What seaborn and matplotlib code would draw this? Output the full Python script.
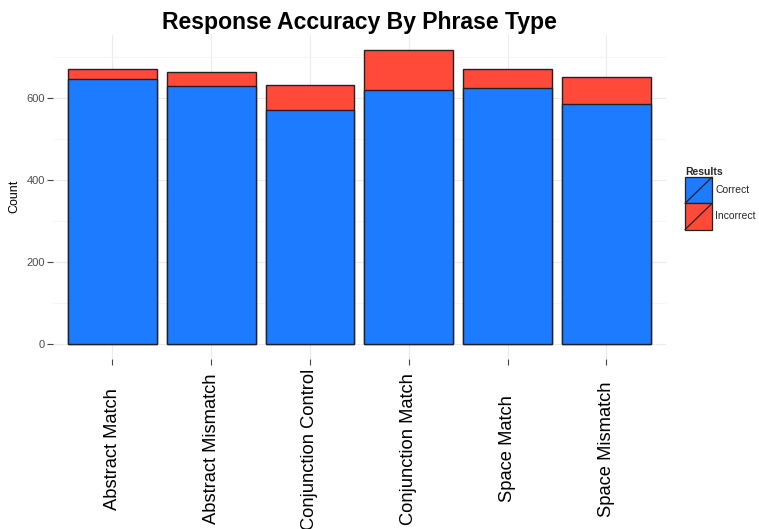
import matplotlib.pyplot as plt
import pandas as pd
import seaborn as sns
from matplotlib.legend_handler import HandlerBase
from matplotlib.lines import Line2D
from matplotlib.patches import Patch, Rectangle
from matplotlib.ticker import MultipleLocator

# Data
phrase_types = ["Abstract Match", "Abstract Mismatch", "Conjunction Control",
                "Conjunction Match", "Space Match", "Space Mismatch"]
correct = [648, 630, 571, 620, 625, 585]
incorrect = [23, 35, 62, 99, 47, 68]

df = pd.DataFrame({"phrase": phrase_types, "Correct": correct, "Incorrect": incorrect})
df["total"] = df["Correct"] + df["Incorrect"]

blue = "#1c7bff"
red = "#ff4a3a"
edge = "#222222"


class SlashKey(HandlerBase):
    # ggplot style legend key: filled box with a diagonal stroke
    def create_artists(self, legend, orig_handle, xdescent, ydescent,
                       width, height, fontsize, trans):
        x0, y0 = -xdescent, -ydescent
        box = Rectangle((x0, y0), width, height, facecolor=orig_handle.get_facecolor(),
                        edgecolor=edge, lw=0.9, transform=trans)
        slash = Line2D([x0, x0 + width], [y0, y0 + height], color=edge, lw=0.9,
                       transform=trans)
        return [box, slash]


sns.set_theme(style="whitegrid")
plt.rcParams["font.family"] = ["Liberation Sans", "DejaVu Sans"]

fig = plt.figure(figsize=(7.59, 5.29), dpi=100)
ax = fig.add_axes([0.070, 0.322, 0.807, 0.612])

sns.barplot(data=df, x="phrase", y="total", color=red, width=0.9,
            edgecolor=edge, linewidth=1.0, saturation=1, ax=ax)
sns.barplot(data=df, x="phrase", y="Correct", color=blue, width=0.9,
            edgecolor=edge, linewidth=1.0, saturation=1, ax=ax)

ax.set_xlim(-0.6, len(phrase_types) - 0.4)
ax.set_ylim(-36, 755)
ax.yaxis.set_major_locator(MultipleLocator(200))
ax.yaxis.set_minor_locator(MultipleLocator(100))
ax.set_facecolor("white")
ax.grid(True, which="major", color="#ebebeb", lw=0.8)
ax.grid(True, which="minor", axis="y", color="#f5f5f5", lw=0.6)
ax.set_axisbelow(True)
for s in ax.spines.values():
    s.set_visible(False)

# x labels are centred under the ticks, like ggplot's angle = 90
ax.tick_params(axis="x", labelsize=13.2, labelrotation=90, length=4, width=0.8,
               color="#444444", labelcolor="black", pad=61, bottom=True)
for lbl in ax.get_xticklabels():
    lbl.set_va("center")
ax.tick_params(axis="y", labelsize=8, length=4, width=0.8, color="#444444",
               labelcolor="#4d4d4d", left=True, pad=2)
ax.set_xlabel("")
ax.set_ylabel("Count", fontsize=9, labelpad=4, color="black")
ax.set_title("Response Accuracy By Phrase Type", fontsize=16.6, fontweight="bold",
             color="black", pad=4)

handles = [Patch(facecolor=blue), Patch(facecolor=red)]
leg = fig.legend(handles, ["Correct", "Incorrect"], title="Results",
                 handler_map={Patch: SlashKey()}, loc="center left",
                 bbox_to_anchor=(0.897, 0.625), frameon=False, fontsize=7.5,
                 title_fontproperties={"weight": "bold", "size": 7.5},
                 handlelength=2.6, handleheight=3.5, labelspacing=0.0,
                 handletextpad=0.3, alignment="left", borderaxespad=0)

fig.savefig("out.png", dpi=100)
